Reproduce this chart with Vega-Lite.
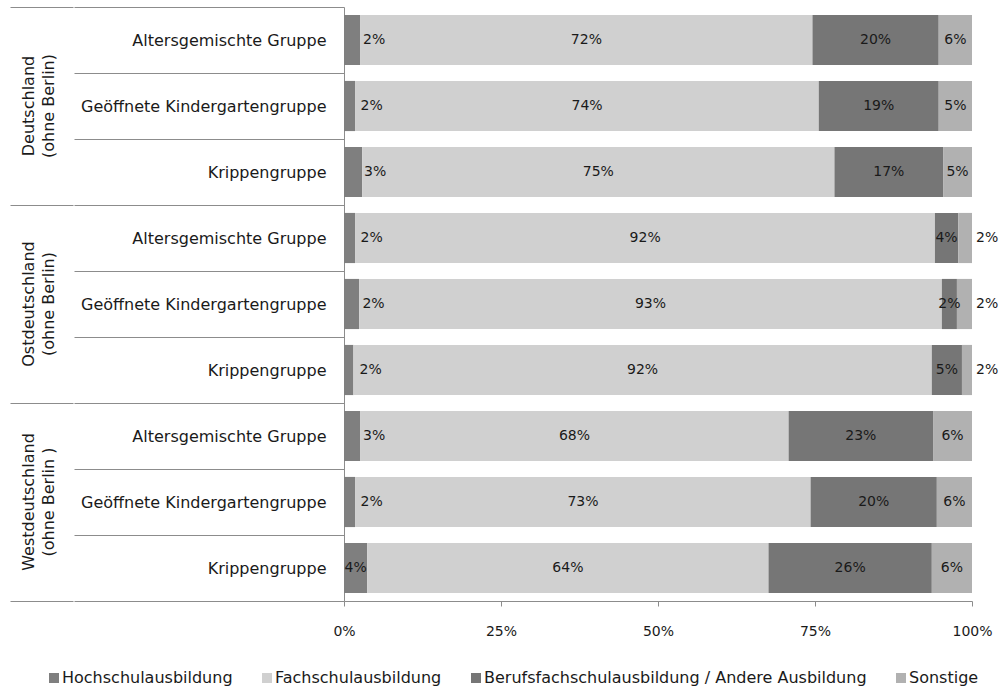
{
  "$schema": "https://vega.github.io/schema/vega-lite/v6.json",
  "padding": {"left": 10, "top": -1, "right": 0, "bottom": 0},
  "background": "#ffffff",
  "spacing": 0,
  "config": {
    "view": {"stroke": null},
    "font": "DejaVu Sans",
    "axis": {"labelFont": "DejaVu Sans", "labelColor": "#1a1a1a", "domainColor": "#8c8c8c", "tickColor": "#8c8c8c", "gridColor": "#8c8c8c", "labelLimit": 500},
    "legend": {"labelFont": "DejaVu Sans"}
  },
  "data": {
    "values": [
      {"r": 1, "region": "Deutschland\n(ohne Berlin)", "group": "Altersgemischte Gruppe", "cat": "Hochschulausbildung", "k": 1, "value": 2.6, "label": "2%"},
      {"r": 1, "region": "Deutschland\n(ohne Berlin)", "group": "Altersgemischte Gruppe", "cat": "Fachschulausbildung", "k": 2, "value": 72.0, "label": "72%"},
      {"r": 1, "region": "Deutschland\n(ohne Berlin)", "group": "Altersgemischte Gruppe", "cat": "Berufsfachschulausbildung / Andere Ausbildung", "k": 3, "value": 20.1, "label": "20%"},
      {"r": 1, "region": "Deutschland\n(ohne Berlin)", "group": "Altersgemischte Gruppe", "cat": "Sonstige", "k": 4, "value": 5.3, "label": "6%"},
      {"r": 2, "region": "Deutschland\n(ohne Berlin)", "group": "Geöffnete Kindergartengruppe", "cat": "Hochschulausbildung", "k": 1, "value": 1.8, "label": "2%"},
      {"r": 2, "region": "Deutschland\n(ohne Berlin)", "group": "Geöffnete Kindergartengruppe", "cat": "Fachschulausbildung", "k": 2, "value": 73.8, "label": "74%"},
      {"r": 2, "region": "Deutschland\n(ohne Berlin)", "group": "Geöffnete Kindergartengruppe", "cat": "Berufsfachschulausbildung / Andere Ausbildung", "k": 3, "value": 19.1, "label": "19%"},
      {"r": 2, "region": "Deutschland\n(ohne Berlin)", "group": "Geöffnete Kindergartengruppe", "cat": "Sonstige", "k": 4, "value": 5.3, "label": "5%"},
      {"r": 3, "region": "Deutschland\n(ohne Berlin)", "group": "Krippengruppe", "cat": "Hochschulausbildung", "k": 1, "value": 2.9, "label": "3%"},
      {"r": 3, "region": "Deutschland\n(ohne Berlin)", "group": "Krippengruppe", "cat": "Fachschulausbildung", "k": 2, "value": 75.2, "label": "75%"},
      {"r": 3, "region": "Deutschland\n(ohne Berlin)", "group": "Krippengruppe", "cat": "Berufsfachschulausbildung / Andere Ausbildung", "k": 3, "value": 17.3, "label": "17%"},
      {"r": 3, "region": "Deutschland\n(ohne Berlin)", "group": "Krippengruppe", "cat": "Sonstige", "k": 4, "value": 4.6, "label": "5%"},
      {"r": 4, "region": "Ostdeutschland\n(ohne Berlin)", "group": "Altersgemischte Gruppe", "cat": "Hochschulausbildung", "k": 1, "value": 1.8, "label": "2%"},
      {"r": 4, "region": "Ostdeutschland\n(ohne Berlin)", "group": "Altersgemischte Gruppe", "cat": "Fachschulausbildung", "k": 2, "value": 92.3, "label": "92%"},
      {"r": 4, "region": "Ostdeutschland\n(ohne Berlin)", "group": "Altersgemischte Gruppe", "cat": "Berufsfachschulausbildung / Andere Ausbildung", "k": 3, "value": 3.7, "label": "4%"},
      {"r": 4, "region": "Ostdeutschland\n(ohne Berlin)", "group": "Altersgemischte Gruppe", "cat": "Sonstige", "k": 4, "value": 2.2, "label": "2%"},
      {"r": 5, "region": "Ostdeutschland\n(ohne Berlin)", "group": "Geöffnete Kindergartengruppe", "cat": "Hochschulausbildung", "k": 1, "value": 2.4, "label": "2%"},
      {"r": 5, "region": "Ostdeutschland\n(ohne Berlin)", "group": "Geöffnete Kindergartengruppe", "cat": "Fachschulausbildung", "k": 2, "value": 92.8, "label": "93%"},
      {"r": 5, "region": "Ostdeutschland\n(ohne Berlin)", "group": "Geöffnete Kindergartengruppe", "cat": "Berufsfachschulausbildung / Andere Ausbildung", "k": 3, "value": 2.4, "label": "2%"},
      {"r": 5, "region": "Ostdeutschland\n(ohne Berlin)", "group": "Geöffnete Kindergartengruppe", "cat": "Sonstige", "k": 4, "value": 2.4, "label": "2%"},
      {"r": 6, "region": "Ostdeutschland\n(ohne Berlin)", "group": "Krippengruppe", "cat": "Hochschulausbildung", "k": 1, "value": 1.5, "label": "2%"},
      {"r": 6, "region": "Ostdeutschland\n(ohne Berlin)", "group": "Krippengruppe", "cat": "Fachschulausbildung", "k": 2, "value": 92.1, "label": "92%"},
      {"r": 6, "region": "Ostdeutschland\n(ohne Berlin)", "group": "Krippengruppe", "cat": "Berufsfachschulausbildung / Andere Ausbildung", "k": 3, "value": 4.8, "label": "5%"},
      {"r": 6, "region": "Ostdeutschland\n(ohne Berlin)", "group": "Krippengruppe", "cat": "Sonstige", "k": 4, "value": 1.6, "label": "2%"},
      {"r": 7, "region": "Westdeutschland\n(ohne Berlin )", "group": "Altersgemischte Gruppe", "cat": "Hochschulausbildung", "k": 1, "value": 2.6, "label": "3%"},
      {"r": 7, "region": "Westdeutschland\n(ohne Berlin )", "group": "Altersgemischte Gruppe", "cat": "Fachschulausbildung", "k": 2, "value": 68.2, "label": "68%"},
      {"r": 7, "region": "Westdeutschland\n(ohne Berlin )", "group": "Altersgemischte Gruppe", "cat": "Berufsfachschulausbildung / Andere Ausbildung", "k": 3, "value": 23.0, "label": "23%"},
      {"r": 7, "region": "Westdeutschland\n(ohne Berlin )", "group": "Altersgemischte Gruppe", "cat": "Sonstige", "k": 4, "value": 6.2, "label": "6%"},
      {"r": 8, "region": "Westdeutschland\n(ohne Berlin )", "group": "Geöffnete Kindergartengruppe", "cat": "Hochschulausbildung", "k": 1, "value": 1.8, "label": "2%"},
      {"r": 8, "region": "Westdeutschland\n(ohne Berlin )", "group": "Geöffnete Kindergartengruppe", "cat": "Fachschulausbildung", "k": 2, "value": 72.5, "label": "73%"},
      {"r": 8, "region": "Westdeutschland\n(ohne Berlin )", "group": "Geöffnete Kindergartengruppe", "cat": "Berufsfachschulausbildung / Andere Ausbildung", "k": 3, "value": 20.1, "label": "20%"},
      {"r": 8, "region": "Westdeutschland\n(ohne Berlin )", "group": "Geöffnete Kindergartengruppe", "cat": "Sonstige", "k": 4, "value": 5.6, "label": "6%"},
      {"r": 9, "region": "Westdeutschland\n(ohne Berlin )", "group": "Krippengruppe", "cat": "Hochschulausbildung", "k": 1, "value": 3.7, "label": "4%"},
      {"r": 9, "region": "Westdeutschland\n(ohne Berlin )", "group": "Krippengruppe", "cat": "Fachschulausbildung", "k": 2, "value": 63.9, "label": "64%"},
      {"r": 9, "region": "Westdeutschland\n(ohne Berlin )", "group": "Krippengruppe", "cat": "Berufsfachschulausbildung / Andere Ausbildung", "k": 3, "value": 26.0, "label": "26%"},
      {"r": 9, "region": "Westdeutschland\n(ohne Berlin )", "group": "Krippengruppe", "cat": "Sonstige", "k": 4, "value": 6.4, "label": "6%"}
    ]
  },
  "hconcat": [
    {
      "width": 63,
      "height": 594,
      "transform": [{"filter": "datum.k === 1 && datum.group === 'Altersgemischte Gruppe'"}],
      "mark": {"type": "text", "angle": 270, "fontSize": 16, "lineBreak": "\n", "lineHeight": 20, "align": "center", "baseline": "middle", "color": "#1a1a1a", "dy": -13},
      "encoding": {
        "y": {
          "field": "region", "type": "nominal", "sort": {"field": "r", "op": "min"},
          "scale": {"paddingInner": 0, "paddingOuter": 0},
          "axis": {"title": null, "labels": false, "ticks": false, "domain": false, "grid": true, "tickBand": "extent", "gridWidth": 1}
        },
        "text": {"field": "region"}
      }
    },
    {
      "width": 628,
      "height": 594,
      "transform": [
        {"calculate": "datum.region + '|' + datum.group", "as": "key"},
        {"stack": "value", "groupby": ["key"], "sort": [{"field": "k", "order": "ascending"}], "offset": "normalize", "as": ["v0", "v1"]},
        {"calculate": "(datum.v0 + datum.v1) / 2", "as": "mid"}
      ],
      "encoding": {
        "y": {
          "field": "key", "type": "nominal", "sort": {"field": "r", "op": "min"},
          "scale": {"paddingInner": 0, "paddingOuter": 0},
          "axis": {
            "orient": "left", "title": null,
            "labelExpr": "split(datum.value, '|')[1]",
            "tickBand": "extent", "tickSize": 270, "tickWidth": 1,
            "labelPadding": -252, "labelFontSize": 16, "labelAlign": "right", "labelBaseline": "middle",
            "domain": true, "domainWidth": 1
          }
        },
        "x": {
          "field": "v0", "type": "quantitative",
          "scale": {"domain": [0, 1], "nice": false},
          "axis": {
            "orient": "bottom", "title": null, "format": ".0%", "values": [0, 0.25, 0.5, 0.75, 1],
            "grid": false, "tickSize": 5, "labelPadding": 18, "labelFontSize": 14,
            "labelFlush": false, "domainWidth": 1
          }
        }
      },
      "layer": [
        {
          "mark": {"type": "bar", "height": {"band": 0.76}},
          "encoding": {
            "x2": {"field": "v1"},
            "color": {
              "field": "cat", "type": "nominal",
              "scale": {
                "domain": ["Hochschulausbildung", "Fachschulausbildung", "Berufsfachschulausbildung / Andere Ausbildung", "Sonstige"],
                "range": ["#7f7f7f", "#d0d0d0", "#767676", "#b1b1b1"]
              },
              "legend": {
                "title": null, "orient": "none", "direction": "horizontal", "columns": 4,
                "legendX": 36, "legendY": 663,
                "symbolType": "square", "symbolSize": 100, "symbolStrokeWidth": 0,
                "labelFontSize": 16, "labelColor": "#1a1a1a", "labelLimit": 600, "labelOffset": 0,
                "columnPadding": 26
              }
            }
          }
        },
        {
          "transform": [{"filter": "datum.k === 1 && datum.value < 3.5"}],
          "mark": {"type": "text", "fontSize": 14, "color": "#1a1a1a", "dx": 22, "align": "center", "baseline": "middle"},
          "encoding": {"x": {"field": "mid", "type": "quantitative"}, "text": {"field": "label"}}
        },
        {
          "transform": [{"filter": "(datum.k === 1 && datum.value >= 3.5) || datum.k === 2 || datum.k === 3 || (datum.k === 4 && datum.value >= 3)"}],
          "mark": {"type": "text", "fontSize": 14, "color": "#1a1a1a", "align": "center", "baseline": "middle"},
          "encoding": {"x": {"field": "mid", "type": "quantitative"}, "text": {"field": "label"}}
        },
        {
          "transform": [{"filter": "datum.k === 4 && datum.value < 3"}],
          "mark": {"type": "text", "fontSize": 14, "color": "#1a1a1a", "dx": 4, "align": "left", "baseline": "middle"},
          "encoding": {"x": {"field": "v1", "type": "quantitative"}, "text": {"field": "label"}}
        }
      ]
    }
  ]
}
